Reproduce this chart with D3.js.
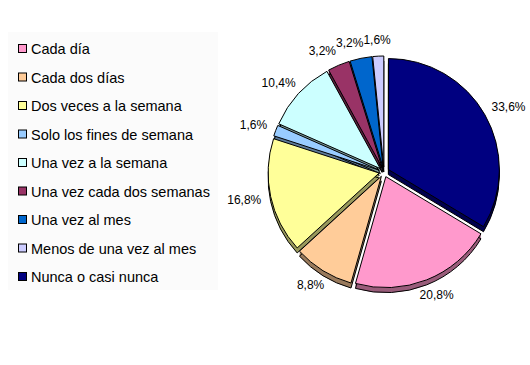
<!DOCTYPE html>
<html>
<head>
<meta charset="utf-8">
<script src="https://cdn.jsdelivr.net/npm/d3@7"></script>
<style>
  body { margin: 0; background: #fff; }
  text { font-family: "Liberation Sans", Arial, sans-serif; fill: #000; }
</style>
</head>
<body>
<svg id="chart" width="530" height="365"></svg>
<script>
/** Categories in legend order */
var categories = [
    "Cada día",
    "Cada dos días",
    "Dos veces a la semana",
    "Solo los fines de semana",
    "Una vez a la semana",
    "Una vez cada dos semanas",
    "Una vez al mes",
    "Menos de una vez al mes",
    "Nunca o casi nunca"
];

/** Percent of answers for each category */
var percents = [20.8, 8.8, 16.8, 1.6, 10.4, 3.2, 3.2, 1.6, 33.6];

/** Slice colours (Excel palette) */
var colors = ["#FF99CC", "#FFCC99", "#FFFF99", "#99CCFF", "#CCFFFF",
              "#993366", "#0066CC", "#CCCCFF", "#000080"];

/** Sizing */
var width = 530,
    height = 365,
    cx = 384,
    cy = 172,
    radius = 111,
    explode = 5,
    depth = 5,
    labelRadius = 126,
    firstSliceAngle = 121;   // degrees, where "Cada día" starts

var comma = d3.formatLocale({decimal: ",", thousands: ".", grouping: [3], currency: ["", "€"]});
var fmt = function (v) { return comma.format(".1f")(v) + "%"; };

var svg = d3.select("#chart");

// ---------- legend ----------
svg.append("rect")
    .attr("x", 8).attr("y", 32)
    .attr("width", 210).attr("height", 258)
    .attr("fill", "#fbfbfb");

var legendY = d3.scalePoint()
    .domain(categories)
    .range([49, 277]);

var legend = svg.append("g").selectAll("g")
    .data(categories)
    .enter()
    .append("g")
    .attr("transform", function (d) { return "translate(0," + legendY(d) + ")"; });

legend.append("rect")
    .attr("x", 18.5).attr("y", -4.5)
    .attr("width", 8).attr("height", 8)
    .attr("fill", function (d, i) { return colors[i]; })
    .attr("stroke", "#000")
    .attr("stroke-width", 1);

legend.append("text")
    .attr("x", 31)
    .attr("y", 0)
    .attr("dy", "0.36em")
    .style("font-size", "14.5px")
    .text(function (d) { return d; });

// ---------- pie ----------
var a0 = firstSliceAngle * Math.PI / 180;
var pie = d3.pie()
    .sort(null)
    .value(function (d) { return d; })
    .startAngle(a0)
    .endAngle(a0 + 2 * Math.PI);

var arcs = pie(percents);
var arc = d3.arc().innerRadius(0).outerRadius(radius);

function mid(d) { return (d.startAngle + d.endAngle) / 2; }
function offset(d) {
    var m = mid(d);
    return [Math.sin(m) * explode, -Math.cos(m) * explode];
}
function darken(c) {
    var r = d3.rgb(c);
    return d3.rgb(r.r * 0.6, r.g * 0.6, r.b * 0.6).formatHex();
}

var pieG = svg.append("g").attr("transform", "translate(" + cx + "," + cy + ")");

// side (depth) of every slice first
var sides = pieG.append("g").selectAll("g")
    .data(arcs)
    .enter()
    .append("g")
    .attr("transform", function (d) { var o = offset(d); return "translate(" + o[0] + "," + o[1] + ")"; });

d3.range(1, depth).forEach(function (k) {
    sides.append("path")
        .attr("transform", "translate(0," + k + ")")
        .attr("d", arc)
        .attr("fill", function (d, i) { return darken(colors[i]); });
});
sides.append("path")
    .attr("transform", "translate(0," + depth + ")")
    .attr("d", arc)
    .attr("fill", function (d, i) { return darken(colors[i]); })
    .attr("stroke", "#000")
    .attr("stroke-width", 1);

// top faces
pieG.append("g").selectAll("path")
    .data(arcs)
    .enter()
    .append("path")
    .attr("transform", function (d) { var o = offset(d); return "translate(" + o[0] + "," + o[1] + ")"; })
    .attr("d", arc)
    .attr("fill", function (d, i) { return colors[i]; })
    .attr("stroke", "#000")
    .attr("stroke-width", 1);

// ---------- labels ----------
var labelSize = 12;
var labelText = pieG.append("g").selectAll("text")
    .data(arcs)
    .enter()
    .append("text")
    .attr("dy", "0.36em")
    .attr("text-anchor", "middle")
    .style("font-size", labelSize + "px")
    .text(function (d, i) { return fmt(percents[i]); });

var labels = [];
labelText.each(function (d) {
    var m = mid(d),
        s = Math.sin(m), c = -Math.cos(m),
        w = this.getComputedTextLength(),
        h = labelSize;
    labels.push({
        node: this, w: w,
        x: s * labelRadius + s * w / 2,
        y: c * labelRadius + c * h / 2
    });
});

// push crowded labels at the top leftwards
var topLabels = labels.filter(function (l) { return l.y < -100; })
    .sort(function (a, b) { return b.x - a.x; });
for (var j = 1; j < topLabels.length; j++) {
    var prev = topLabels[j - 1], cur = topLabels[j];
    var maxX = prev.x - prev.w / 2 - cur.w / 2;
    if (cur.x > maxX) cur.x = maxX;
}

labels.forEach(function (l) {
    d3.select(l.node).attr("x", l.x).attr("y", l.y);
});
</script>
</body>
</html>
